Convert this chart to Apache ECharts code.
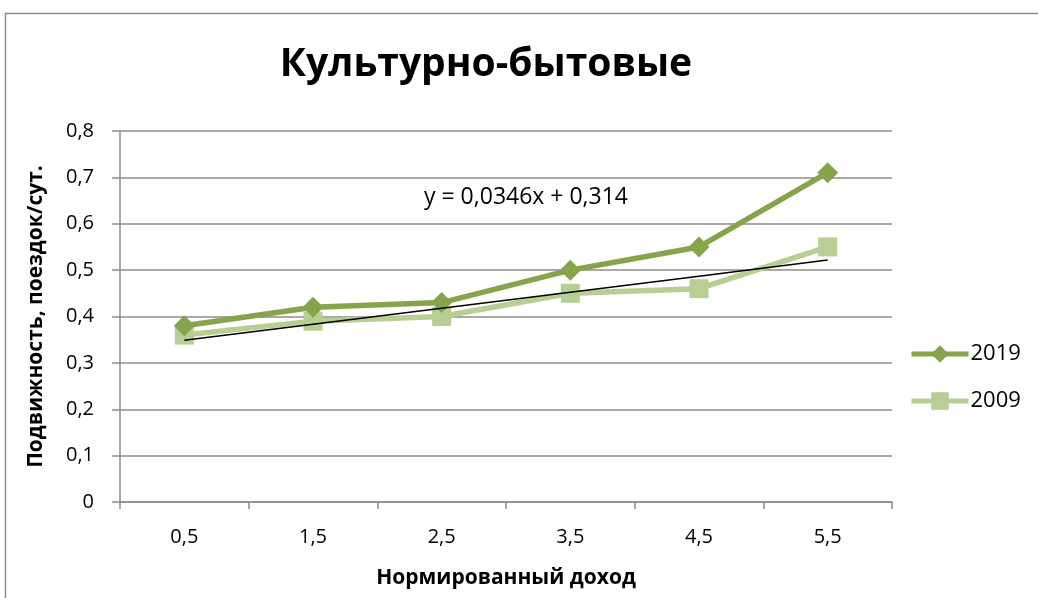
<!DOCTYPE html>
<html>
<head>
<meta charset="utf-8">
<script src="https://cdn.jsdelivr.net/npm/echarts@6/dist/echarts.min.js"></script>
<style>
  html, body { margin: 0; padding: 0; background: #fff; }
  #chart { width: 1038px; height: 598px; }
</style>
</head>
<body>
<div id="chart"></div>
<script>
// Income classes and trip mobility per day
const categories = ['0,5', '1,5', '2,5', '3,5', '4,5', '5,5'];
const mobility2019 = [0.38, 0.42, 0.43, 0.50, 0.55, 0.71];
const mobility2009 = [0.36, 0.39, 0.40, 0.45, 0.46, 0.55];
const yTicks = ['0', '0,1', '0,2', '0,3', '0,4', '0,5', '0,6', '0,7', '0,8'];
// Linear trend of the 2009 series: y = a*x + b, x = 1..n
const trendSlope = 0.0346;
const trendIntercept = 0.314;
const trendLabel = 'y = 0,0346x + 0,314';

const trendData = categories.map((_, i) => trendSlope * (i + 1) + trendIntercept);

const FONT = '"Open Sans", sans-serif';
const chart = echarts.init(document.getElementById('chart'));

chart.setOption({
  animation: false,
  backgroundColor: '#fff',
  title: {
    text: 'Культурно-бытовые',
    left: 481,
    top: 40,
    textAlign: 'center',
    textStyle: { fontFamily: FONT, fontWeight: 'bold', fontSize: 39, color: '#000' }
  },
  grid: { left: 120, right: 146, top: 131, bottom: 96 },
  legend: {
    orient: 'vertical',
    left: 904,
    top: 338,
    itemGap: 25,
    itemWidth: 57,
    itemHeight: 22,
    data: ['2019', '2009'],
    lineStyle: { width: 5 },
    textStyle: { fontFamily: FONT, fontSize: 22, color: '#000', padding: [0, 0, 0, -3] }
  },
  xAxis: {
    type: 'category',
    data: categories,
    boundaryGap: true,
    name: 'Нормированный доход',
    nameLocation: 'middle',
    nameGap: 66,
    nameTextStyle: { fontFamily: FONT, fontWeight: 'bold', fontSize: 21, color: '#000' },
    axisLine: { lineStyle: { color: '#8c8c8c', width: 1.5 } },
    axisTick: { show: true, length: 7, lineStyle: { color: '#8c8c8c', width: 1.5 } },
    axisLabel: { fontFamily: FONT, fontSize: 20, color: '#000', margin: 25 },
    splitLine: { show: false }
  },
  yAxis: {
    type: 'value',
    min: 0,
    max: 0.8,
    interval: 0.1,
    name: 'Подвижность, поездок/сут.',
    nameLocation: 'middle',
    nameGap: 73,
    nameTextStyle: { fontFamily: FONT, fontWeight: 'bold', fontSize: 21, color: '#000' },
    axisLine: { show: true, lineStyle: { color: '#8c8c8c', width: 1.5 } },
    axisTick: { show: true, length: 8, lineStyle: { color: '#8c8c8c', width: 1.5 } },
    axisLabel: {
      fontFamily: FONT, fontSize: 20, color: '#000', margin: 26,
      formatter: (v) => yTicks[Math.round(v * 10)]
    },
    splitLine: { show: true, lineStyle: { color: '#8c8c8c', width: 1.5 } }
  },
  series: [
    {
      name: '2019',
      type: 'line',
      data: mobility2019,
      symbol: 'diamond',
      symbolSize: 21,
      z: 3,
      itemStyle: { color: '#86a44a' },
      lineStyle: { color: '#86a44a', width: 5.5 }
    },
    {
      name: '2009',
      type: 'line',
      data: mobility2009,
      symbol: 'rect',
      symbolSize: 19,
      z: 2,
      itemStyle: { color: '#b8cf94' },
      lineStyle: { color: '#b8cf94', width: 5.5 }
    },
    {
      name: 'trend',
      type: 'line',
      data: trendData,
      symbol: 'none',
      z: 4,
      silent: true,
      lineStyle: { color: '#000', width: 1.5 }
    }
  ],
  graphic: [
    {
      type: 'rect',
      silent: true,
      shape: { x: 5.5, y: 13.5, width: 1100, height: 700 },
      style: { fill: 'none', stroke: '#8c8c8c', lineWidth: 1.5 }
    },
    {
      type: 'text',
      left: 424,
      top: 186,
      style: { text: trendLabel, fontFamily: FONT, fontSize: 23, fill: '#000' }
    }
  ]
});
</script>
</body>
</html>
